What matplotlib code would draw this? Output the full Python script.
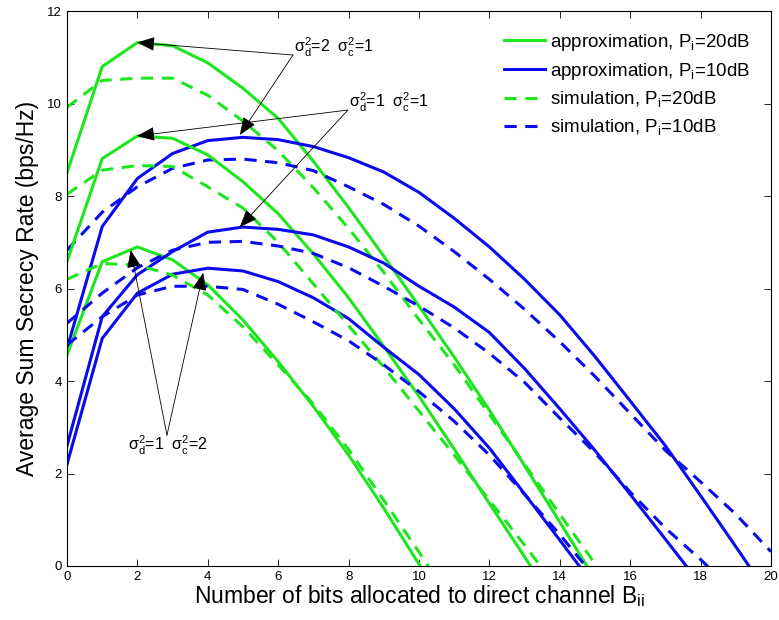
import matplotlib
matplotlib.use('Agg')
import matplotlib.pyplot as plt

plt.rcParams['font.family'] = ['Liberation Sans', 'DejaVu Sans']
plt.rcParams['mathtext.fontset'] = 'custom'
plt.rcParams['mathtext.rm'] = 'Liberation Sans'
plt.rcParams['mathtext.it'] = 'Liberation Sans'
plt.rcParams['mathtext.default'] = 'rm'

bits = list(range(21))

# approximation, Pi = 20 dB
approx_20_d2c1 = [8.5, 10.8, 11.32, 11.25, 10.88, 10.33, 9.68, 8.75, 7.75, 6.7, 5.62, 4.52, 3.37, 2.17, 0.95, -0.28]
approx_20_d1c1 = [6.58, 8.81, 9.3, 9.25, 8.89, 8.31, 7.62, 6.75, 5.8, 4.75, 3.67, 2.53, 1.35, 0.2, -1.0]
approx_20_d1c2 = [4.56, 6.58, 6.9, 6.62, 6.08, 5.32, 4.42, 3.45, 2.4, 1.25, 0.04, -1.2]
# approximation, Pi = 10 dB
approx_10_d2c1 = [4.7, 7.34, 8.38, 8.92, 9.2, 9.27, 9.22, 9.07, 8.83, 8.52, 8.08, 7.52, 6.9, 6.2, 5.43, 4.53, 3.57, 2.6, 1.52, 0.42, -0.7]
approx_10_d1c1 = [2.6, 5.39, 6.3, 6.8, 7.22, 7.33, 7.28, 7.16, 6.9, 6.55, 6.05, 5.6, 5.05, 4.27, 3.4, 2.5, 1.55, 0.58, -0.4]
approx_10_d1c2 = [2.2, 4.92, 5.9, 6.31, 6.44, 6.38, 6.15, 5.8, 5.35, 4.73, 4.14, 3.4, 2.55, 1.56, 0.56, -0.45]
# simulation, Pi = 20 dB
sim_20_d2c1 = [9.92, 10.5, 10.55, 10.55, 10.18, 9.62, 8.98, 8.18, 7.3, 6.35, 5.33, 4.35, 3.28, 2.2, 1.12, 0.05, -1.05]
sim_20_d1c1 = [8.04, 8.56, 8.66, 8.64, 8.2, 7.74, 7.0, 6.1, 5.2, 4.3, 3.35, 2.4, 1.42, 0.45, -0.55]
sim_20_d1c2 = [6.2, 6.54, 6.51, 6.29, 5.86, 5.17, 4.35, 3.5, 2.52, 1.42, 0.3, -0.85]
# simulation, Pi = 10 dB
sim_10_d2c1 = [6.83, 7.65, 8.2, 8.6, 8.78, 8.8, 8.72, 8.55, 8.2, 7.82, 7.35, 6.8, 6.2, 5.55, 4.85, 4.1, 3.3, 2.5, 1.82, 1.12, 0.31]
sim_10_d1c1 = [5.25, 5.9, 6.45, 6.83, 7.0, 7.02, 6.92, 6.76, 6.45, 6.05, 5.62, 5.15, 4.6, 3.97, 3.2, 2.45, 1.6, 0.82, 0.14, -0.6]
sim_10_d1c2 = [4.78, 5.39, 5.86, 6.05, 6.05, 5.98, 5.66, 5.28, 4.87, 4.35, 3.77, 3.13, 2.4, 1.55, 0.68, -0.25]

legend_labels = [r'approximation, P$_{\rm i}$=20dB', r'approximation, P$_{\rm i}$=10dB',
                 r'simulation, P$_{\rm i}$=20dB', r'simulation, P$_{\rm i}$=10dB']

green = '#1ee61e'
blue = '#0a0aee'
lw = 2.2
dash = (4, 2.8)


def plot_curve(ax, vals, color, dashed=False, label=None):
    line, = ax.plot(bits[:len(vals)], vals, color=color, lw=lw, label=label)
    if dashed:
        line.set_dashes(dash)
    return line


def main():
    fig = plt.figure(figsize=(7.79, 6.2), dpi=100)
    ax = fig.add_axes([0.086, 0.0871, 0.9037, 0.895])

    plot_curve(ax, approx_20_d2c1, green, label=legend_labels[0])
    plot_curve(ax, approx_10_d2c1, blue, label=legend_labels[1])
    plot_curve(ax, sim_20_d2c1, green, True, label=legend_labels[2])
    plot_curve(ax, sim_10_d2c1, blue, True, label=legend_labels[3])
    for vals in [approx_20_d1c1, approx_20_d1c2]:
        plot_curve(ax, vals, green)
    for vals in [approx_10_d1c1, approx_10_d1c2]:
        plot_curve(ax, vals, blue)
    for vals in [sim_20_d1c1, sim_20_d1c2]:
        plot_curve(ax, vals, green, True)
    for vals in [sim_10_d1c1, sim_10_d1c2]:
        plot_curve(ax, vals, blue, True)

    ax.set_xlim(0, 20)
    ax.set_ylim(0, 12)
    ax.set_xticks(range(0, 21, 2))
    ax.set_yticks(range(0, 13, 2))
    ax.tick_params(direction='in', top=True, right=True, labelsize=9.5, length=5, width=0.6)
    for sp in ax.spines.values():
        sp.set_linewidth(0.8)
    ax.set_xlabel(r'Number of bits allocated to direct channel B$_{\rm ii}$', fontsize=16.5, labelpad=0)
    ax.set_ylabel('Average Sum Secrecy Rate (bps/Hz)', fontsize=16.5, labelpad=6)

    ax.legend(loc='upper right', frameon=False, fontsize=13.5, handlelength=2.15,
              handletextpad=0.3, labelspacing=0.42, borderaxespad=0.9, borderpad=0.2)

    # annotations
    arrow = dict(arrowstyle='-|>,head_length=0.55,head_width=0.22', color='k', lw=0.6,
                 mutation_scale=20, shrinkA=0, shrinkB=0)
    notes = [
        (r'$\sigma_d^2$=2  $\sigma_c^2$=1', (6.42, 11.05), (6.45, 11.22), [(1.99, 11.32), (4.91, 9.32)]),
        (r'$\sigma_d^2$=1  $\sigma_c^2$=1', (7.98, 9.86), (8.0, 10.02), [(1.99, 9.3), (4.91, 7.33)]),
        (r'$\sigma_d^2$=1  $\sigma_c^2$=2', (2.84, 2.83), (1.72, 2.6), [(1.81, 6.83), (3.87, 6.34)]),
    ]
    for text, vertex, pos, tips in notes:
        ax.text(pos[0], pos[1], text, fontsize=11.5, ha='left', va='center')
        for tip in tips:
            ax.annotate('', xy=tip, xytext=vertex, arrowprops=arrow)

    fig.savefig('out.png', dpi=100)


if __name__ == '__main__':
    main()
